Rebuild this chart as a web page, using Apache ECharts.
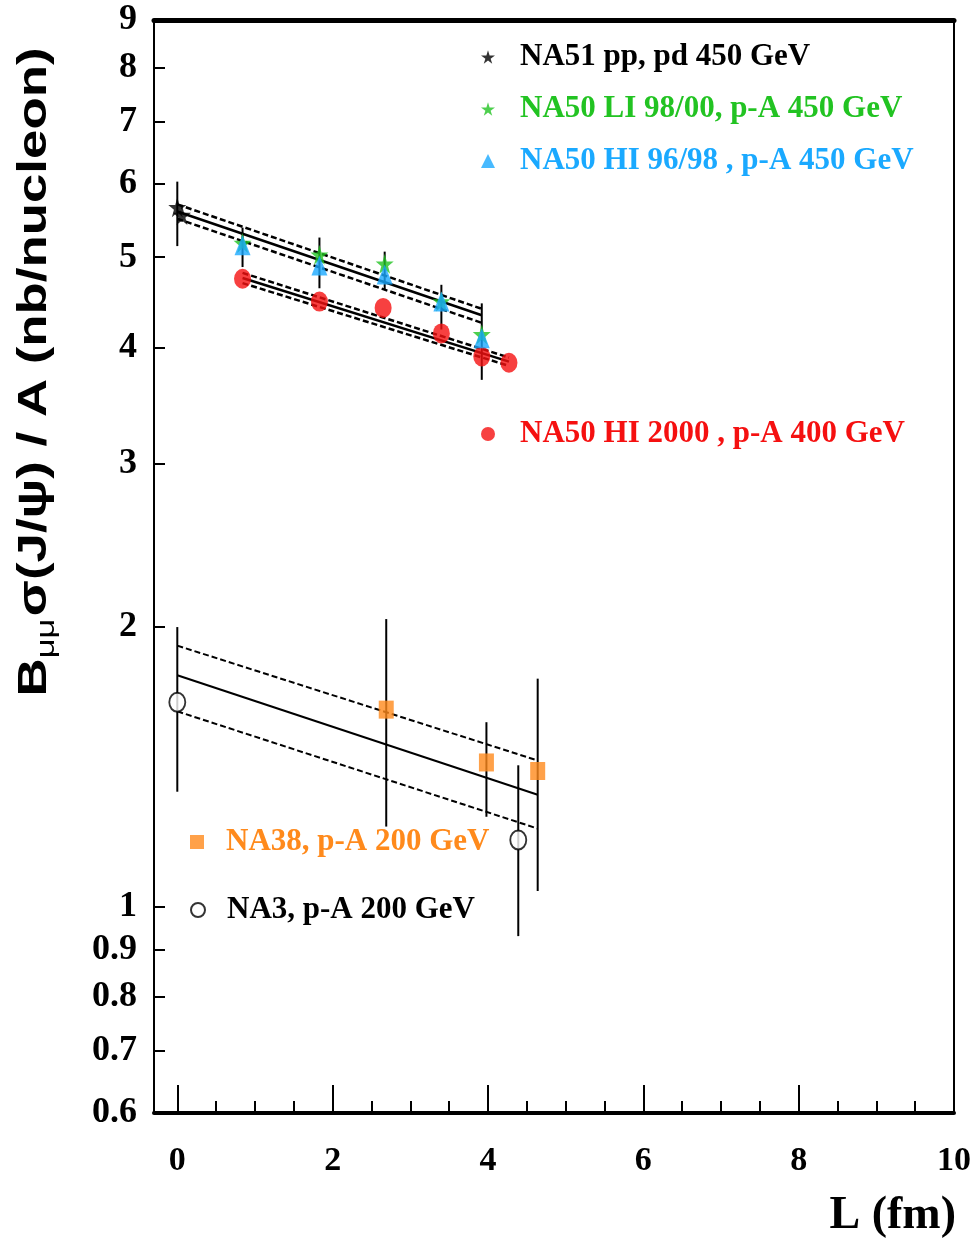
<!DOCTYPE html>
<html>
<head>
<meta charset="utf-8">
<script src="https://cdn.jsdelivr.net/npm/echarts@6/dist/echarts.min.js"></script>
<style>
  html, body { margin: 0; padding: 0; background: #fff; }
  #chart { width: 974px; height: 1250px; }
</style>
</head>
<body>
<div id="chart"></div>
<script>
// values: [L (fm), B sigma / A]
const na51 = [[0.0, 5.66], [0.06, 5.55]];
const na50LI = [[0.84, 5.18], [1.83, 5.03], [2.67, 4.92], [3.40, 4.48], [3.92, 4.13]];
const na50HI9698 = [[0.84, 5.15], [1.83, 4.90], [2.67, 4.79], [3.40, 4.48], [3.92, 4.09]];
const na50HI2000 = [[0.84, 4.74], [1.83, 4.48], [2.65, 4.41], [3.40, 4.14], [3.92, 3.91], [4.27, 3.85]];
const na38 = [[2.69, 1.63], [3.98, 1.43], [4.64, 1.40]];
const na3 = [[0.0, 1.66], [4.39, 1.18]];

// error bars: [L, low, high]
const errBars = [
  [0.0, 5.14, 6.03],
  [0.84, 4.88, 5.38], [1.83, 4.63, 5.25], [2.67, 4.61, 5.07], [3.40, 4.18, 4.67], [3.92, 3.69, 4.46],
  [2.69, 1.22, 2.04], [3.98, 1.25, 1.58], [4.64, 1.04, 1.76],
  [0.0, 1.33, 2.00], [4.39, 0.93, 1.42]
];

// exponential fits (straight on log scale) and their bands
const fit450Mid = [[0, 5.60], [3.92, 4.33]];
const fit450Hi = [[0, 5.70], [3.92, 4.40]];
const fit450Lo = [[0, 5.50], [3.92, 4.25]];
const fit400Mid = [[0.84, 4.75], [4.27, 3.86]];
const fit400Hi = [[0.84, 4.81], [4.27, 3.90]];
const fit400Lo = [[0.84, 4.69], [4.27, 3.82]];
const fit200Mid = [[0, 1.775], [4.64, 1.32]];
const fit200Hi = [[0, 1.91], [4.64, 1.437]];
const fit200Lo = [[0, 1.623], [4.64, 1.214]];

const xMajor = [0, 2, 4, 6, 8, 10];
const xMinor = [0.5, 1, 1.5, 2.5, 3, 3.5, 4.5, 5, 5.5, 6.5, 7, 7.5, 8.5, 9, 9.5];
const yTicks = [0.6, 0.7, 0.8, 0.9, 1, 2, 3, 4, 5, 6, 7, 8, 9];

const serif = 'Liberation Serif';
const starPath = 'path://M50,0L61,35L98,35L68,57L79,91L50,70L21,91L32,57L2,35L39,35Z';
const GREEN = '#22c322';
const BLUE = '#1aa9ff';
const RED = '#f51010';
const ORANGE = '#ff8a1c';

const chart = echarts.init(document.getElementById('chart'));

// band lines in the upper group are drawn heavier, like the original
function fitLine(data, dashed, width) {
  return {
    type: 'line', data: data, symbol: 'none', silent: true, z: 2,
    lineStyle: { color: '#000', width: width || 2, type: dashed ? [6, 3] : 'solid' }
  };
}

function renderErr(params, api) {
  const top = api.coord([api.value(0), api.value(2)]);
  const bot = api.coord([api.value(0), api.value(1)]);
  return {
    type: 'line',
    shape: { x1: top[0], y1: top[1], x2: bot[0], y2: bot[1] },
    style: { stroke: '#000', lineWidth: 2 }
  };
}

const legendText = {
  fontFamily: serif, fontWeight: 'bold', fontSize: 31, lineHeight: 32,
  padding: [0, 0, 0, 20]
};

const option = {
  animation: false,
  grid: { left: 154, right: 20, top: 20, bottom: 137, containLabel: false, outerBoundsMode: 'none' },
  xAxis: [
    {
      type: 'value', min: -0.3, max: 10, position: 'bottom',
      axisLine: { show: true, onZero: false, lineStyle: { color: '#000', width: 4 } },
      axisTick: { show: true, inside: true, length: 28, customValues: xMajor, lineStyle: { color: '#000', width: 2 } },
      axisLabel: { customValues: xMajor, margin: 31, fontFamily: serif, fontWeight: 'bold', fontSize: 34, color: '#000' },
      splitLine: { show: false },
      name: 'L (fm)', nameLocation: 'end', nameGap: 2,
      nameTextStyle: { fontFamily: serif, fontWeight: 'bold', fontSize: 46, color: '#000', align: 'right', verticalAlign: 'top', padding: [80, 0, 0, 0] }
    },
    {
      type: 'value', min: -0.3, max: 10, position: 'bottom',
      axisLine: { show: false, onZero: false },
      axisTick: { show: true, inside: true, length: 12, customValues: xMinor, lineStyle: { color: '#000', width: 2 } },
      axisLabel: { show: false },
      splitLine: { show: false }
    },
    {
      type: 'value', min: -0.3, max: 10, position: 'top',
      axisLine: { show: true, onZero: false, lineStyle: { color: '#000', width: 5 } },
      axisTick: { show: false }, axisLabel: { show: false }, splitLine: { show: false }
    }
  ],
  yAxis: [
    {
      type: 'log', logBase: 10, min: 0.6, max: 9,
      axisLine: { show: true, onZero: false, lineStyle: { color: '#000', width: 2 } },
      axisTick: { show: true, inside: true, length: 11, customValues: yTicks, lineStyle: { color: '#000', width: 2 } },
      axisLabel: {
        customValues: yTicks, margin: 17, fontFamily: serif, fontWeight: 'bold', fontSize: 36, color: '#000',
        formatter: v => String(+(+v).toFixed(1))
      },
      splitLine: { show: false }, minorTick: { show: false }
    },
    {
      type: 'log', logBase: 10, min: 0.6, max: 9, position: 'right',
      axisLine: { show: true, onZero: false, lineStyle: { color: '#000', width: 2 } },
      axisTick: { show: false }, axisLabel: { show: false }, splitLine: { show: false }
    }
  ],
  legend: [
    {
      orient: 'vertical', left: 481, top: 41, padding: 0, itemGap: 20, itemWidth: 14, itemHeight: 14,
      selectedMode: false, textStyle: legendText,
      data: [
        { name: 'NA51 pp, pd 450 GeV', textStyle: { color: '#000' } },
        { name: 'NA50 LI 98/00, p-A 450 GeV', textStyle: { color: GREEN } },
        { name: 'NA50 HI 96/98 , p-A 450 GeV', textStyle: { color: BLUE } }
      ]
    },
    {
      orient: 'vertical', left: 481, top: 418, padding: 0, itemWidth: 14, itemHeight: 14,
      selectedMode: false, textStyle: legendText,
      data: [{ name: 'NA50 HI 2000 , p-A 400 GeV', textStyle: { color: RED } }]
    },
    {
      orient: 'vertical', left: 190, top: 826, padding: 0, itemWidth: 14, itemHeight: 14,
      selectedMode: false, textStyle: Object.assign({}, legendText, { padding: [0, 0, 0, 17] }),
      data: [{ name: 'NA38, p-A 200 GeV', textStyle: { color: ORANGE } }]
    },
    {
      orient: 'vertical', left: 190, top: 894, padding: 0, itemWidth: 14, itemHeight: 14,
      selectedMode: false, textStyle: Object.assign({}, legendText, { padding: [0, 0, 0, 17] }),
      data: [{ name: 'NA3, p-A 200 GeV', textStyle: { color: '#000' } }]
    }
  ],
  graphic: [
    {
      type: 'text', x: 35, y: 372, rotation: Math.PI / 2, scaleX: 1.32,
      style: {
        text: '{b|B}{s|μμ}{n|σ(J/ψ) / A (nb/nucleon)}',
        align: 'center', verticalAlign: 'middle', fill: '#000',
        rich: {
          b: { fontFamily: 'Liberation Sans', fontWeight: 'bold', fontSize: 40 },
          s: { fontFamily: 'Liberation Sans', fontSize: 26, padding: [24, 2, 0, 0] },
          n: { fontFamily: 'Liberation Sans', fontWeight: 'bold', fontSize: 40 }
        }
      }
    }
  ],
  series: [
    {
      type: 'custom', name: 'errors', coordinateSystem: 'cartesian2d', renderItem: renderErr,
      data: errBars, encode: { x: 0, y: [1, 2] }, silent: true, z: 1
    },
    fitLine(fit450Mid, false, 2.5), fitLine(fit450Hi, true, 2.5), fitLine(fit450Lo, true, 2.5),
    fitLine(fit400Mid, false, 2.5), fitLine(fit400Hi, true, 2.5), fitLine(fit400Lo, true, 2.5),
    fitLine(fit200Mid, false), fitLine(fit200Hi, true), fitLine(fit200Lo, true),
    {
      type: 'scatter', name: 'NA51 pp, pd 450 GeV', data: na51, z: 3,
      symbol: starPath, symbolSize: [18, 20], itemStyle: { color: '#000' }
    },
    {
      type: 'scatter', name: 'NA50 LI 98/00, p-A 450 GeV', data: na50LI, z: 3,
      symbol: starPath, symbolSize: [18, 20], itemStyle: { color: GREEN }
    },
    {
      type: 'scatter', name: 'NA50 HI 2000 , p-A 400 GeV', data: na50HI2000, z: 3,
      symbol: 'circle', symbolSize: [17, 20], itemStyle: { color: RED }
    },
    {
      type: 'scatter', name: 'NA50 HI 96/98 , p-A 450 GeV', data: na50HI9698, z: 4,
      symbol: 'triangle', symbolSize: [16, 20], itemStyle: { color: BLUE }
    },
    {
      type: 'scatter', name: 'NA38, p-A 200 GeV', data: na38, z: 3,
      symbol: 'rect', symbolSize: [15, 18], itemStyle: { color: ORANGE }
    },
    {
      type: 'scatter', name: 'NA3, p-A 200 GeV', data: na3, z: 3,
      symbol: 'circle', symbolSize: [16, 19], itemStyle: { color: '#fff', borderColor: '#000', borderWidth: 2 }
    }
  ]
};

chart.setOption(option);
window.addEventListener('resize', () => chart.resize());
</script>
</body>
</html>
